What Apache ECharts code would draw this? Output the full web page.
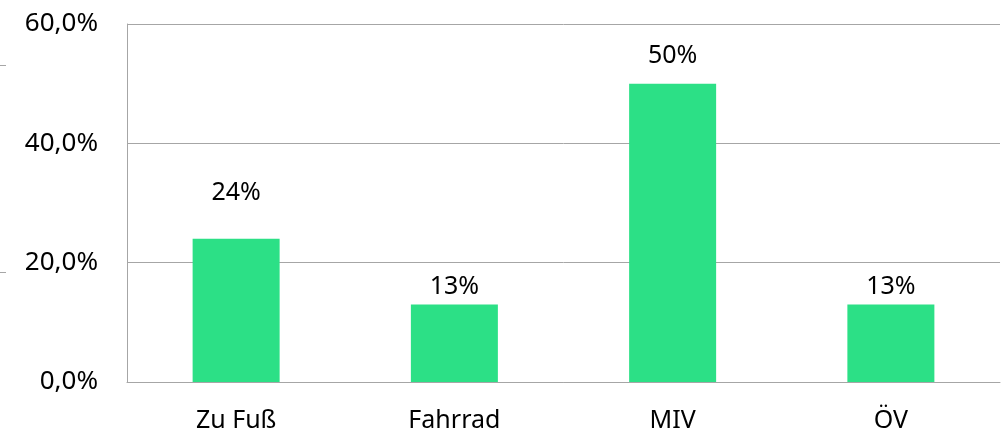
<!DOCTYPE html>
<html>
<head>
<meta charset="utf-8">
<script src="https://cdn.jsdelivr.net/npm/echarts@6/dist/echarts.min.js"></script>
<style>
  html, body { margin: 0; padding: 0; background: #fff; }
  #main { width: 1007px; height: 435px; }
</style>
</head>
<body>
<div id="main"></div>
<script>
  // Daten
  const categories = ['Zu Fuß', 'Fahrrad', 'MIV', 'ÖV'];
  const shares = [24, 13, 50, 13];
  const yTicks = [0, 20, 40, 60];

  // Abstand der Beschriftung über dem Balken (wie im Original)
  const labelGaps = [33, 5, 15, 5];

  const gridColor = '#a6a6a6';
  const font = '"Noto Sans", sans-serif';

  let myChart = echarts.init(document.getElementById('main'));

  let barData = shares.map((v, i) => {
    return {
      value: v,
      label: { distance: labelGaps[i] }
    }
  });

  let option = {
    animation: false,
    grid: {
      left: 127,
      right: 7,
      top: 24,
      bottom: 53
    },
    xAxis: {
      type: 'category',
      data: categories,
      axisLine: { show: true, lineStyle: { color: gridColor, width: 1 } },
      axisTick: { show: false },
      axisLabel: {
        color: '#000',
        fontFamily: font,
        fontSize: 25,
        margin: 26
      }
    },
    yAxis: {
      type: 'value',
      min: yTicks[0],
      max: yTicks[yTicks.length - 1],
      interval: yTicks[1] - yTicks[0],
      axisLine: { show: true, lineStyle: { color: gridColor, width: 1 } },
      axisTick: { show: false },
      splitLine: { show: true, lineStyle: { color: gridColor, width: 1 } },
      axisLabel: {
        color: '#000',
        fontFamily: font,
        fontSize: 26,
        margin: 29,
        formatter: v => v.toFixed(1).replace('.', ',') + '%'
      }
    },
    graphic: [
      { type: 'line', shape: { x1: 0, y1: 65.5, x2: 6, y2: 65.5 }, style: { stroke: gridColor, lineWidth: 1 } },
      { type: 'line', shape: { x1: 0, y1: 272.5, x2: 6, y2: 272.5 }, style: { stroke: gridColor, lineWidth: 1 } }
    ],
    series: [
      {
        type: 'bar',
        data: barData,
        barWidth: 87,
        itemStyle: { color: '#2ce086' },
        label: {
          show: true,
          position: 'top',
          color: '#000',
          fontFamily: font,
          fontSize: 25,
          formatter: p => p.value + '%'
        }
      }
    ]
  };

  myChart.setOption(option);
</script>
</body>
</html>
